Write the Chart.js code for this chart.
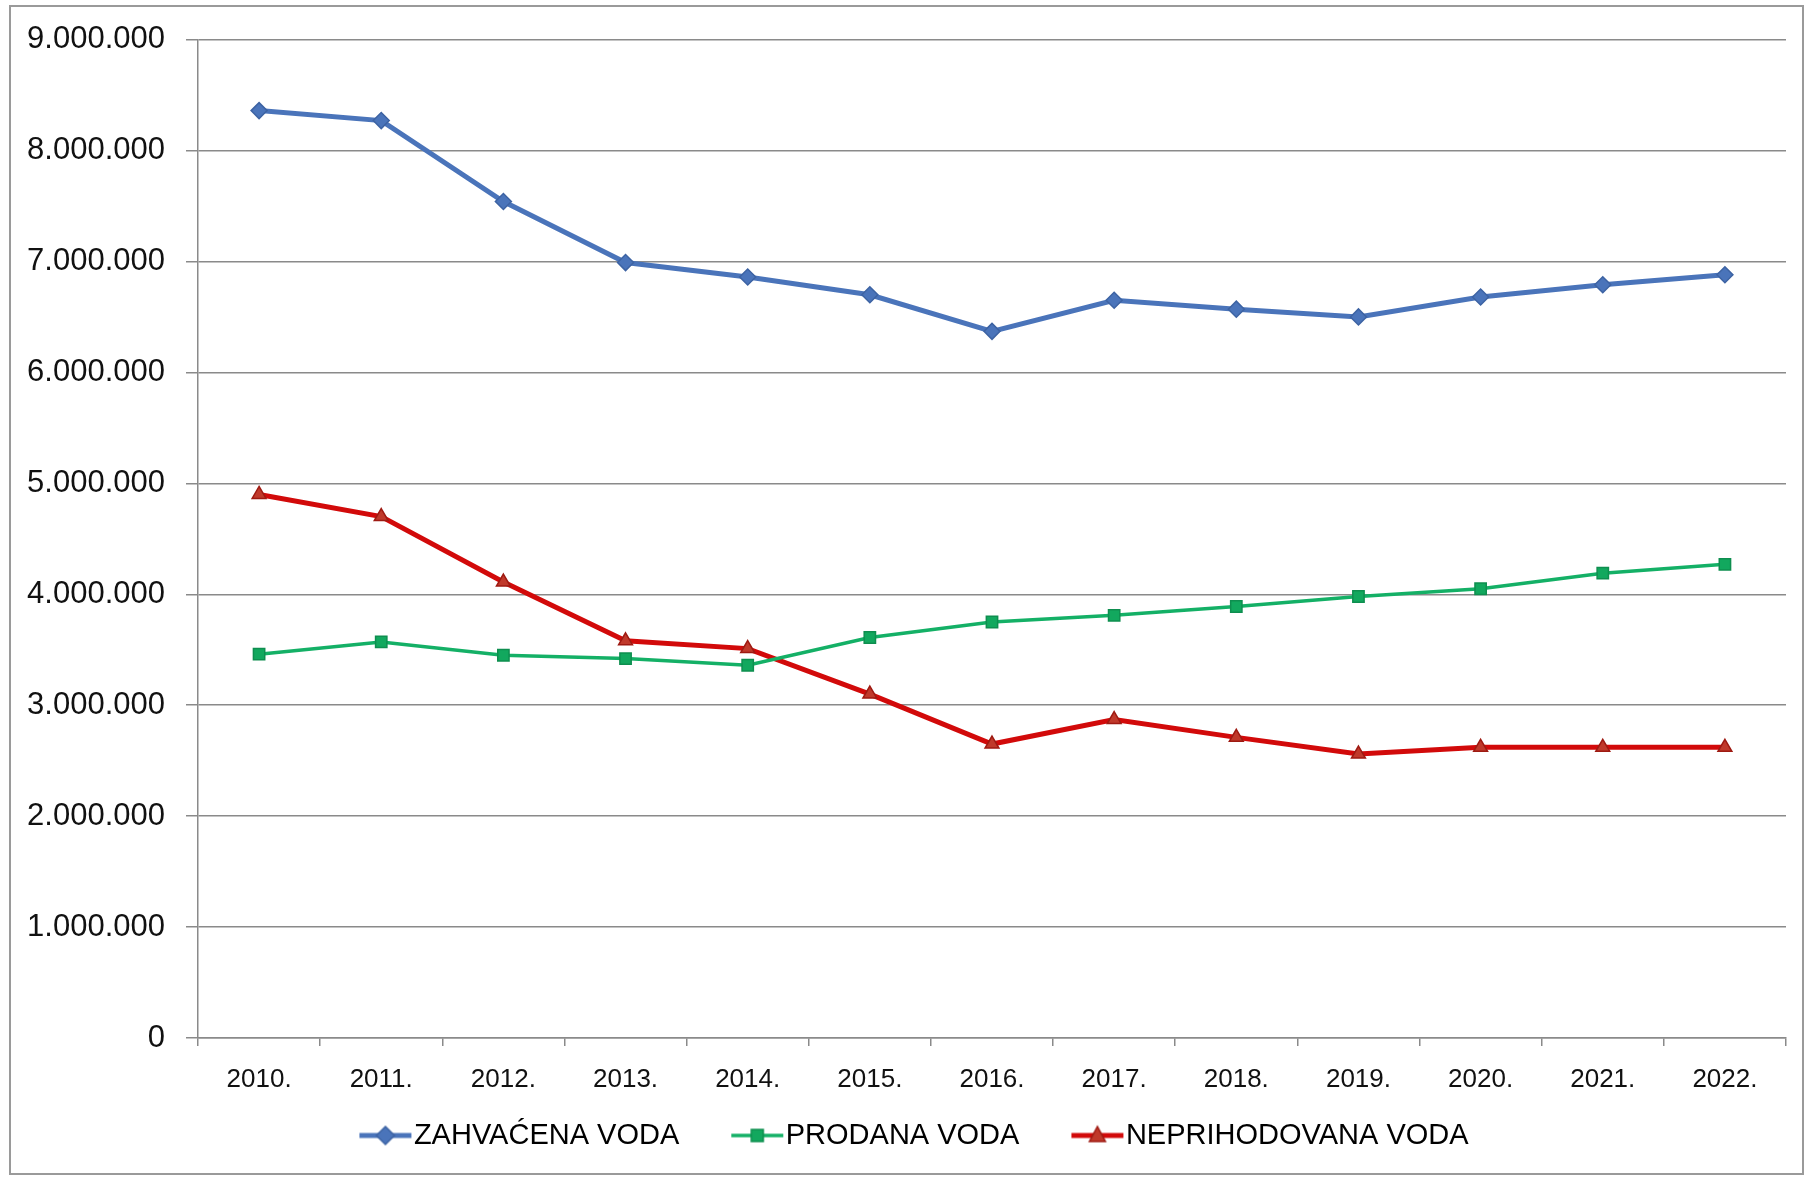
<!DOCTYPE html>
<html>
<head>
<meta charset="utf-8">
<script src="https://cdn.jsdelivr.net/npm/chart.js@4.4.1/dist/chart.umd.min.js"></script>
<style>
  html, body { margin: 0; padding: 0; background: #fff; }
  #wrap { position: relative; width: 1807px; height: 1178px; }
</style>
</head>
<body>
<div id="wrap"><canvas id="vodaChart" width="1807" height="1178"></canvas></div>
<script>
const years = ['2010.', '2011.', '2012.', '2013.', '2014.', '2015.', '2016.', '2017.', '2018.', '2019.', '2020.', '2021.', '2022.'];
const zahvacena = [8360000, 8270000, 7540000, 6990000, 6860000, 6700000, 6370000, 6650000, 6570000, 6500000, 6680000, 6790000, 6880000];
const prodana = [3460000, 3570000, 3450000, 3420000, 3360000, 3610000, 3750000, 3810000, 3890000, 3980000, 4050000, 4190000, 4270000];
const neprihodovana = [4900000, 4700000, 4110000, 3580000, 3510000, 3100000, 2650000, 2870000, 2710000, 2560000, 2620000, 2620000, 2620000];
const yTicks = [0, 1000000, 2000000, 3000000, 4000000, 5000000, 6000000, 7000000, 8000000, 9000000];

const FONT = '"Liberation Sans", Arial, sans-serif';
const BOX_W = 82; // legend slot width, icon sits at its right end

// legend icon: short line with the series marker in the middle
function legendIcon(color, lineW, marker, fill, border) {
  const c = document.createElement('canvas');
  c.width = BOX_W + 40;
  c.height = 30;
  const g = c.getContext('2d');
  const x0 = BOX_W - 20, x1 = x0 + 52, cy = 15, mx = (x0 + x1) / 2;
  g.strokeStyle = color;
  g.lineWidth = lineW;
  g.beginPath(); g.moveTo(x0, cy); g.lineTo(x1, cy); g.stroke();
  g.fillStyle = fill;
  g.strokeStyle = border;
  g.lineWidth = 1.5;
  g.beginPath();
  if (marker === 'diamond') {
    g.moveTo(mx, cy - 9); g.lineTo(mx + 9, cy); g.lineTo(mx, cy + 9); g.lineTo(mx - 9, cy);
  } else if (marker === 'square') {
    g.rect(mx - 6, cy - 6, 12, 12);
  } else {
    g.moveTo(mx, cy - 9); g.lineTo(mx + 8, cy + 6); g.lineTo(mx - 8, cy + 6);
  }
  g.closePath(); g.fill(); g.stroke();
  return c;
}

const series = [
  { label: 'ZAHVAĆENA VODA', data: zahvacena, color: '#4a74ba', width: 5, point: 'rectRot', radius: 8, fill: '#4a74ba', border: '#3d63a3', marker: 'diamond' },
  { label: 'PRODANA VODA', data: prodana, color: '#14b066', width: 3.5, point: 'rect', radius: 8, fill: '#12a85e', border: '#0e8e4f', marker: 'square' },
  { label: 'NEPRIHODOVANA VODA', data: neprihodovana, color: '#d20a0a', width: 5, point: 'triangle', radius: 8, fill: '#c0392b', border: '#9e1a12', marker: 'triangle' }
];

const frame = {
  id: 'frame',
  beforeDraw(chart) {
    const ctx = chart.ctx;
    ctx.save();
    ctx.fillStyle = '#fff';
    ctx.fillRect(0, 0, chart.width, chart.height);
    ctx.strokeStyle = '#9a9a9a';
    ctx.lineWidth = 2;
    ctx.strokeRect(10, 6, 1793, 1168);
    ctx.restore();
  }
};

new Chart(document.getElementById('vodaChart').getContext('2d'), {
  type: 'line',
  data: {
    labels: years,
    datasets: series.map(s => ({
      label: s.label,
      data: s.data,
      borderColor: s.color,
      borderWidth: s.width,
      backgroundColor: s.fill,
      pointStyle: s.point,
      pointRadius: s.radius,
      pointBackgroundColor: s.fill,
      pointBorderColor: s.border,
      pointBorderWidth: 1.5,
      tension: 0,
      fill: false,
      icon: legendIcon(s.color, s.width, s.marker, s.fill, s.border)
    }))
  },
  options: {
    responsive: false,
    animation: false,
    layout: { padding: { left: 0, top: 38, right: 21, bottom: 18 } },
    plugins: {
      tooltip: { enabled: false },
      legend: {
        position: 'bottom',
        labels: {
          usePointStyle: true,
          pointStyleWidth: BOX_W,
          padding: 10,
          color: '#111',
          font: { family: FONT, size: 29 },
          generateLabels(chart) {
            return chart.data.datasets.map((ds, i) => ({
              text: ds.label,
              pointStyle: ds.icon,
              fillStyle: ds.borderColor,
              strokeStyle: ds.borderColor,
              lineWidth: 0,
              hidden: false,
              datasetIndex: i
            }));
          }
        }
      }
    },
    scales: {
      x: {
        offset: true,
        afterFit(scale) { scale.height = 73; },
        grid: { display: true, drawOnChartArea: false, drawTicks: true, tickLength: 8, offset: true, color: '#8a8a8a', lineWidth: 1.5 },
        border: { display: true, color: '#8a8a8a', width: 1.5 },
        ticks: { color: '#111', padding: 18, maxRotation: 0, font: { family: FONT, size: 26 } }
      },
      y: {
        min: 0,
        max: 9000000,
        afterFit(scale) { scale.width = 198; },
        afterBuildTicks(scale) { scale.ticks = yTicks.map(v => ({ value: v })); },
        grid: { color: '#8a8a8a', lineWidth: 1.5, drawTicks: true, tickLength: 12 },
        border: { display: true, color: '#8a8a8a', width: 1.5 },
        ticks: {
          color: '#111',
          padding: 21,
          font: { family: FONT, size: 31 },
          callback: v => v.toLocaleString('de-DE')
        }
      }
    }
  },
  plugins: [frame]
});
</script>
</body>
</html>
